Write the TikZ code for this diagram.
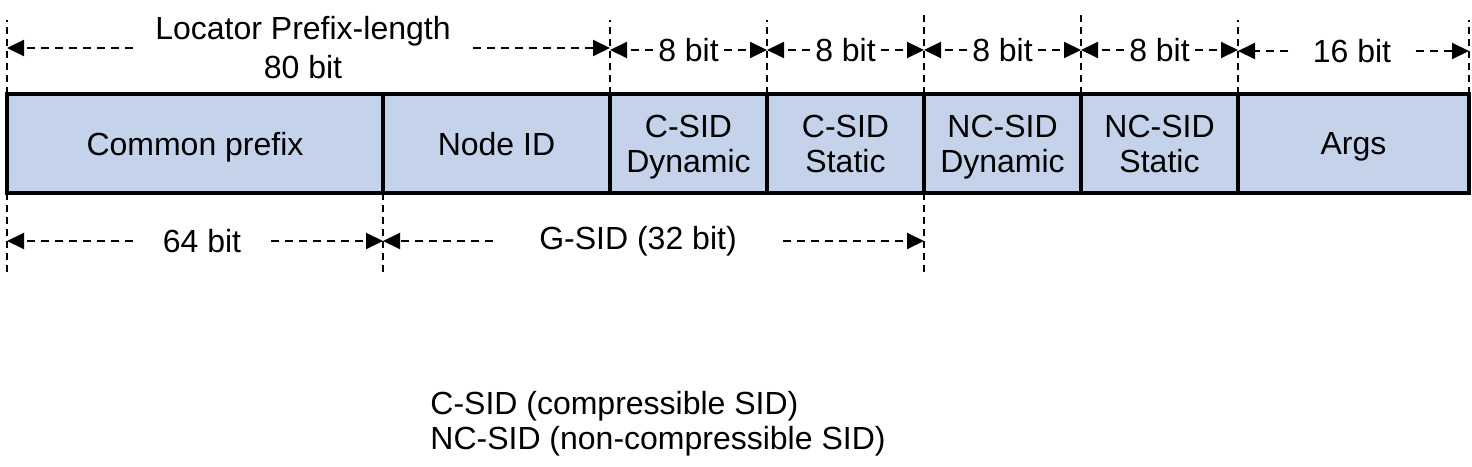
\documentclass[tikz,border=0pt]{standalone}
\usepackage{fontspec}
\setmainfont{Liberation Sans}
\usetikzlibrary{arrows.meta, positioning}
\definecolor{fieldblue}{RGB}{197,211,234}

\begin{document}
\begin{tikzpicture}[
        x=0.5pt, y=-0.5pt,
        font=\fontsize{16}{17.5}\selectfont,
        field/.style={rectangle, draw, line width=1.8pt, fill=fieldblue, minimum height=49.5pt, inner sep=0pt, outer sep=0pt, text depth=0pt, align=center},
        guide/.style={line width=1pt, dash pattern=on 3.5pt off 2.5pt},
        dim/.style={-{Triangle[length=8.5pt, width=8pt]}, line width=1pt, dash pattern=on 4pt off 3pt},
        len/.style={inner ysep=0pt, align=center}
    ]
        \useasboundingbox (0,0) rectangle (1472,466);

        % Fields
        \node[field, minimum width=188pt, anchor=north west] (common) at (7,94) {Common prefix};
        \node[field, minimum width=113.5pt, right=0pt of common] (nodeid) {Node ID};
        \node[field, minimum width=78.5pt, right=0pt of nodeid] (cdyn) {C-SID\\Dynamic};
        \node[field, minimum width=78.5pt, right=0pt of cdyn] (cstat) {C-SID\\Static};
        \node[field, minimum width=78.5pt, right=0pt of cstat] (ncdyn) {NC-SID\\Dynamic};
        \node[field, minimum width=78.5pt, right=0pt of ncdyn] (ncstat) {NC-SID\\Static};
        \node[field, minimum width=115.5pt, right=0pt of ncstat] (args) {Args};

        % Guides
        \coordinate (hi) at (0,20);
        \coordinate (higher) at (0,14);
        \coordinate (lo) at (0,273);
        \draw[guide] (common.north west) -- (common.north west |- hi);
        \draw[guide] (nodeid.north east) -- (nodeid.north east |- hi);
        \draw[guide] (cdyn.north east) -- (cdyn.north east |- hi);
        \draw[guide] (cstat.north east) -- (cstat.north east |- higher);
        \draw[guide] (ncdyn.north east) -- (ncdyn.north east |- higher);
        \draw[guide] (ncstat.north east) -- (ncstat.north east |- hi);
        \draw[guide] (args.north east) -- (args.north east |- hi);
        \draw[guide] (common.south west) -- (common.south west |- lo);
        \draw[guide] (common.south east) -- (common.south east |- lo);
        \draw[guide] (cstat.south east) -- (cstat.south east |- lo);

        % Lengths
        \node[len, inner xsep=11pt] (locator) at (303,48) {Locator Prefix-length\\[2pt]80 bit};
        \node[len, inner xsep=2.5pt] (bitsA) at (688.5,50) {8 bit};
        \node[len, inner xsep=2.5pt] (bitsB) at (845.5,50) {8 bit};
        \node[len, inner xsep=2.5pt] (bitsC) at (1002.5,50) {8 bit};
        \node[len, inner xsep=2.5pt] (bitsD) at (1159.5,50) {8 bit};
        \node[len, inner xsep=12pt] (bitsE) at (1352,51) {16 bit};
        \node[len, inner xsep=14.5pt] (prefix) at (202,241) {64 bit};
        \node[len, inner xsep=23pt] (gsid) at (638,241) {G-SID (32 bit)};

        % Arrows
        \draw[dim] (locator.west) -- (locator.west -| common.north west);
        \draw[dim] (locator.east) -- (locator.east -| nodeid.north east);
        \draw[dim] (bitsA.west) -- (bitsA.west -| cdyn.north west);
        \draw[dim] (bitsA.east) -- (bitsA.east -| cdyn.north east);
        \draw[dim] (bitsB.west) -- (bitsB.west -| cstat.north west);
        \draw[dim] (bitsB.east) -- (bitsB.east -| cstat.north east);
        \draw[dim] (bitsC.west) -- (bitsC.west -| ncdyn.north west);
        \draw[dim] (bitsC.east) -- (bitsC.east -| ncdyn.north east);
        \draw[dim] (bitsD.west) -- (bitsD.west -| ncstat.north west);
        \draw[dim] (bitsD.east) -- (bitsD.east -| ncstat.north east);
        \draw[dim] (bitsE.west) -- (bitsE.west -| args.north west);
        \draw[dim] (bitsE.east) -- (bitsE.east -| args.north east);
        \draw[dim] (prefix.west) -- (prefix.west -| common.south west);
        \draw[dim] (prefix.east) -- (prefix.east -| common.south east);
        \draw[dim] (gsid.west) -- (gsid.west -| nodeid.south west);
        \draw[dim] (gsid.east) -- (gsid.east -| cstat.south east);

        % Legend
        \node[anchor=north west, align=left, inner sep=0pt] (legend) at (430,391) {C-SID (compressible SID)\\NC-SID (non-compressible SID)};
    \end{tikzpicture}
\end{document}
